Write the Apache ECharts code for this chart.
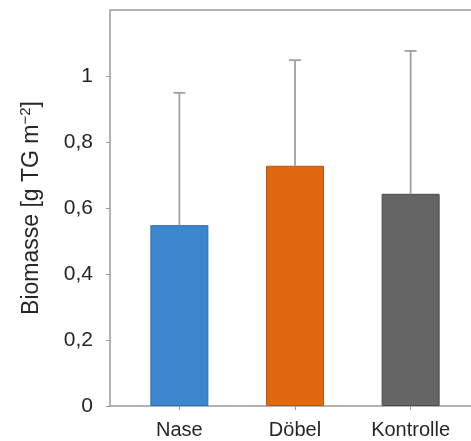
<!DOCTYPE html>
<html>
<head>
<meta charset="utf-8">
<script src="https://cdn.jsdelivr.net/npm/echarts@6/dist/echarts.min.js"></script>
<style>html,body{margin:0;padding:0;background:#fff}#c{width:471px;height:441px}</style>
</head>
<body>
<div id="c"></div>
<script>
const categories = ['Nase', 'Döbel', 'Kontrolle'];
const means = [0.548, 0.728, 0.643];
const errors = [0.401, 0.320, 0.433];
const colors = ['#3b86cd', '#e0690f', '#656565'];
const borderColors = ['#2f6ea8', '#b8560c', '#4a4a4a'];
const yTicks = [0, 0.2, 0.4, 0.6, 0.8, 1];
const yMax = 1.2;

const font = '"Liberation Sans", Arial, sans-serif';
const chart = echarts.init(document.getElementById('c'), null, {renderer: 'canvas'});

const barData = means.map((v, i) => ({
  value: [i + 1, v],
  itemStyle: {color: colors[i], borderColor: borderColors[i], borderWidth: 1}
}));
const errData = means.map((v, i) => [i + 1, v, v + errors[i]]);
const lineCol = '#9a9a9a';

chart.setOption({
  animation: false,
  grid: {left: 110, top: 10, bottom: 35, right: -9, show: false, outerBoundsMode: 'none', containLabel: false},
  xAxis: [{
    type: 'value', min: 0.4, max: 3.6,
    splitLine: {show: false},
    axisLine: {show: true, lineStyle: {color: lineCol, width: 1.5}},
    axisTick: {show: true, customValues: [1, 2, 3], length: 4, lineStyle: {color: lineCol}},
    axisLabel: {
      customValues: [1, 2, 3], margin: 14,
      formatter: v => categories[Math.round(v) - 1] || '',
      fontFamily: font, fontSize: 20, color: '#262626'
    }
  }],
  yAxis: {
    type: 'value', min: 0, max: yMax,
    splitLine: {show: false},
    axisLine: {show: true, lineStyle: {color: lineCol, width: 1.5}},
    axisTick: {show: true, customValues: yTicks, length: 4, lineStyle: {color: lineCol}},
    axisLabel: {
      customValues: yTicks, margin: 17,
      formatter: v => String(+v.toFixed(1)).replace('.', ','),
      fontFamily: font, fontSize: 21, color: '#262626'
    },
    name: '{t|Biomasse [g TG m}{s|−2}{t|]}',
    nameLocation: 'middle', nameGap: 65,
    nameTextStyle: {
      rich: {
        t: {fontFamily: font, fontSize: 23, color: '#262626'},
        s: {fontFamily: font, fontSize: 15, color: '#262626', padding: [0, 0, 12, 0]}
      }
    }
  },
  series: [
    {
      type: 'bar', data: barData, barWidth: 58, z: 2,
      markLine: {
        silent: true, symbol: 'none', animation: false,
        label: {show: false},
        lineStyle: {color: lineCol, width: 1.5, type: 'solid'},
        data: [{yAxis: yMax}]
      }
    },
    {
      type: 'custom', z: 3,
      data: errData,
      renderItem: (params, api) => {
        const x = api.value(0);
        const p0 = api.coord([x, api.value(1)]);
        const p1 = api.coord([x, api.value(2)]);
        const cap = 6;
        const style = {stroke: '#a0a0a0', lineWidth: 1.8};
        return {
          type: 'group',
          children: [
            {type: 'line', shape: {x1: p0[0], y1: p0[1], x2: p1[0], y2: p1[1]}, style},
            {type: 'line', shape: {x1: p1[0] - cap, y1: p1[1], x2: p1[0] + cap, y2: p1[1]}, style}
          ]
        };
      }
    }
  ]
});
</script>
</body>
</html>
